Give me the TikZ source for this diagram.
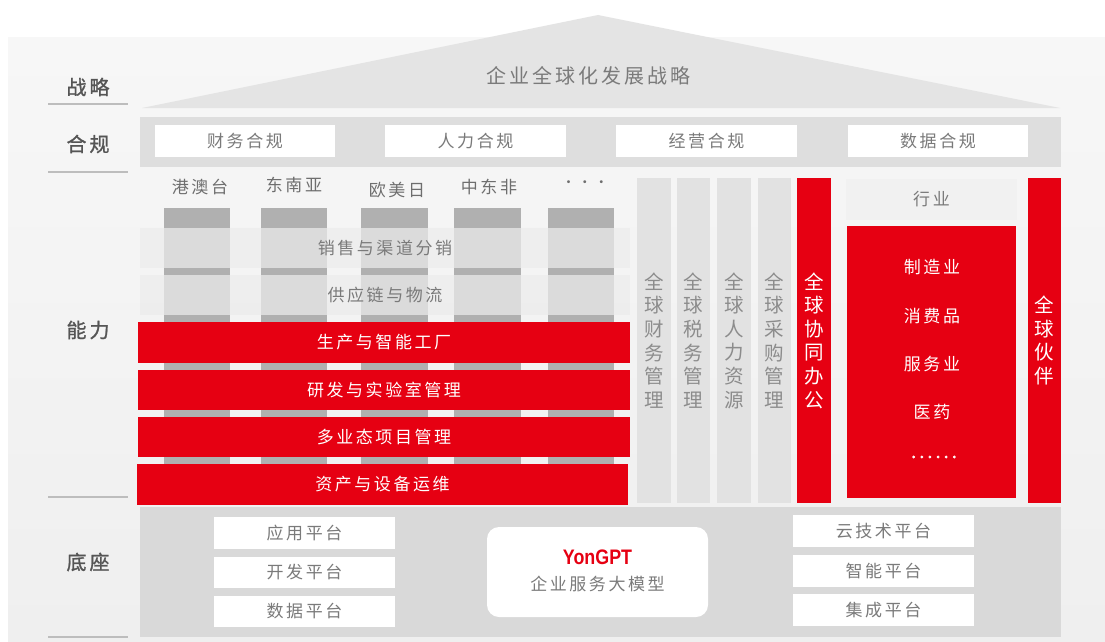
\documentclass[tikz,border=0pt]{standalone}
\usepackage{fontspec}
\setmainfont[LetterSpace=15]{Noto Sans CJK SC}
\newfontfamily\vfont{Noto Sans CJK SC}
\newfontfamily\lblfont[LetterSpace=15,FakeBold=1.2]{Noto Sans CJK SC}
\newfontfamily\dotfont[LetterSpace=20,FakeBold=3]{Noto Sans CJK SC}
\newfontfamily\latinb{Liberation Sans}
\definecolor{myred}{HTML}{E60012}
\definecolor{txtgray}{HTML}{7A7A7A}
\definecolor{coltxt}{HTML}{8C8C8C}
\definecolor{lblgray}{HTML}{555555}
\definecolor{roofgray}{HTML}{E4E4E4}
\definecolor{bandgray}{HTML}{DEDEDE}
\definecolor{colgray}{HTML}{E2E2E2}
\definecolor{pillargray}{HTML}{B0B0B0}
\definecolor{basegray}{HTML}{D9D9D9}
\definecolor{bgtop}{HTML}{F7F7F7}
\definecolor{bgbot}{HTML}{EFEFEF}
\definecolor{linegray}{HTML}{BDBDBD}
\definecolor{lightband}{HTML}{ECECEC}
\definecolor{hangye}{HTML}{F1F1F1}
\begin{document}
\begin{tikzpicture}[x=1pt,y=-1pt,
  lbl/.style={text=lblgray, font=\lblfont\fontsize{20}{20}\selectfont, inner sep=0pt},
  divline/.style={draw=linegray, line width=1.2pt},
  wbox/.style={fill=white, text=txtgray, font=\fontsize{17}{17}\selectfont, inner sep=0pt},
  region/.style={text=lblgray!85!white, font=\fontsize{17}{17}\selectfont, inner sep=0pt},
  pillar/.style={fill=pillargray},
  paleband/.style={fill=lightband, fill opacity=0.72, text opacity=1, text=txtgray, font=\fontsize{17}{17}\selectfont, inner sep=0pt, minimum width=490pt, minimum height=40pt},
  redband/.style={fill=myred, text=white, font=\fontsize{17}{17}\selectfont, inner sep=0pt, minimum height=40pt},
  graycol/.style={fill=colgray, inner sep=0pt, minimum height=325pt},
  redcol/.style={fill=myred, inner sep=0pt, minimum height=325pt},
  vtxt/.style={align=center, inner sep=0pt, font=\vfont\fontsize{19.5}{23.6}\selectfont},
  redtxt/.style={text=white, font=\fontsize{17}{17}\selectfont, inner sep=0pt},
]
\useasboundingbox (0,0) rectangle (1105,642);
% background
\fill[white] (0,0) rectangle (1105,642);
\shade[top color=bgtop, bottom color=bgbot] (8,38) rectangle (1105,642);

% left labels and separator lines
\node[lbl] (lzl) at (88,87) {战略};
\draw[divline] (48,104) -- (128,104);
\node[lbl] (lhg) at (88,144) {合规};
\draw[divline] (48,172) -- (128,172);
\node[lbl] (lnl) at (88,330) {能力};
\draw[divline] (48,497) -- (128,497);
\node[lbl] (ldz) at (88,562) {底座};
\draw[divline] (48,637) -- (128,637);

% roof
\fill[roofgray] (142,108) -- (598,15) -- (1060,108) -- cycle;
\node[text=txtgray, font=\fontsize{20}{20}\selectfont, inner sep=0pt] (roof) at (588,76) {企业全球化发展战略};

% compliance band
\fill[bandgray] (140,117) rectangle (1061,167);
\node[wbox, minimum width=180pt, minimum height=32pt] (c1) at (245,141) {财务合规};
\node[wbox, minimum width=181pt, minimum height=32pt] (c2) at (475.5,141) {人力合规};
\node[wbox, minimum width=181pt, minimum height=32pt] (c3) at (706.5,141) {经营合规};
\node[wbox, minimum width=180pt, minimum height=32pt] (c4) at (938,141) {数据合规};

% regions
\node[region] (r1) at (200,187) {港澳台};
\node[region] (r2) at (294,185) {东南亚};
\node[region] (r3) at (397,190) {欧美日};
\node[region] (r4) at (489,187) {中东非};
\node[region, font=\vfont\fontsize{14}{14}\selectfont] (r5) at (585,184) {·\,·\,·};

% pillars
\fill[pillar] (164,208) rectangle (230,505);
\fill[pillar] (261,208) rectangle (327,505);
\fill[pillar] (361,208) rectangle (428,505);
\fill[pillar] (454,208) rectangle (521,505);
\fill[pillar] (548,208) rectangle (614,505);

% capability bands
\node[paleband] (b1) at (385,248) {销售与渠道分销};
\node[paleband] (b2) at (385,295) {供应链与物流};
\node[redband, minimum width=492pt, minimum height=41pt] (b3) at (384,342.5) {生产与智能工厂};
\node[redband, minimum width=492pt] (b4) at (384,390) {研发与实验室管理};
\node[redband, minimum width=492pt] (b5) at (384,437) {多业态项目管理};
\node[redband, minimum width=491pt, minimum height=41pt] (b6) at (382.5,484.5) {资产与设备运维};

% vertical columns
\node[graycol, minimum width=34pt] (k1) at (654,340.5) {};
\node[graycol, minimum width=33pt] (k2) at (693.5,340.5) {};
\node[graycol, minimum width=34pt] (k3) at (734,340.5) {};
\node[graycol, minimum width=33pt] (k4) at (774.5,340.5) {};
\node[redcol, minimum width=34pt] (k5) at (814,340.5) {};
\node[redcol, minimum width=33pt] (k6) at (1044.5,340.5) {};
\node[vtxt, text=coltxt] (t1) at (k1.center) {全\\球\\财\\务\\管\\理};
\node[vtxt, text=coltxt] (t2) at (k2.center) {全\\球\\税\\务\\管\\理};
\node[vtxt, text=coltxt] (t3) at (k3.center) {全\\球\\人\\力\\资\\源};
\node[vtxt, text=coltxt] (t4) at (k4.center) {全\\球\\采\\购\\管\\理};
\node[vtxt, text=white] (t5) at (k5.center) {全\\球\\协\\同\\办\\公};
\node[vtxt, text=white] (t6) at (k6.center) {全\\球\\伙\\伴};

% industry
\node[fill=hangye, text=txtgray, font=\fontsize{17}{17}\selectfont, inner sep=0pt, minimum width=171pt, minimum height=41pt] (hy) at (931.5,199.5) {行业};
\node[fill=myred, inner sep=0pt, minimum width=169pt, minimum height=272pt] (ind) at (931.5,362) {};
\node[redtxt] (i1) at (932,267) {制造业};
\node[redtxt] (i2) at (932,316) {消费品};
\node[redtxt] (i3) at (932,364) {服务业};
\node[redtxt] (i4) at (932,412) {医药};
\node[text=white, font=\dotfont\fontsize{17}{17}\selectfont, inner sep=0pt] (i5) at (934,457) {......};

% base
\fill[basegray] (140,507) rectangle (1061,637);
\node[wbox, minimum width=181pt, minimum height=32pt] (p1) at (304.5,533) {应用平台};
\node[wbox, minimum width=181pt, minimum height=31pt] (p2) at (304.5,572.5) {开发平台};
\node[wbox, minimum width=181pt, minimum height=31pt] (p3) at (304.5,611.5) {数据平台};
\node[wbox, minimum width=181pt, minimum height=32pt] (q1) at (883.5,531) {云技术平台};
\node[wbox, minimum width=181pt, minimum height=32pt] (q2) at (883.5,571) {智能平台};
\node[wbox, minimum width=181pt, minimum height=32pt] (q3) at (883.5,610) {集成平台};
\node[fill=white, rounded corners=12pt, minimum width=221pt, minimum height=90pt, inner sep=0pt] (gpt) at (597.5,572) {};
\node[text=myred, font=\latinb\bfseries\fontsize{21}{21}\selectfont, inner sep=0pt] (gpt1) at (597.5,557) {\scalebox{0.85}[1]{YonGPT}};
\node[text=txtgray, font=\fontsize{17}{17}\selectfont, inner sep=0pt] (gpt2) at (597.5,584) {企业服务大模型};
\end{tikzpicture}
\end{document}
